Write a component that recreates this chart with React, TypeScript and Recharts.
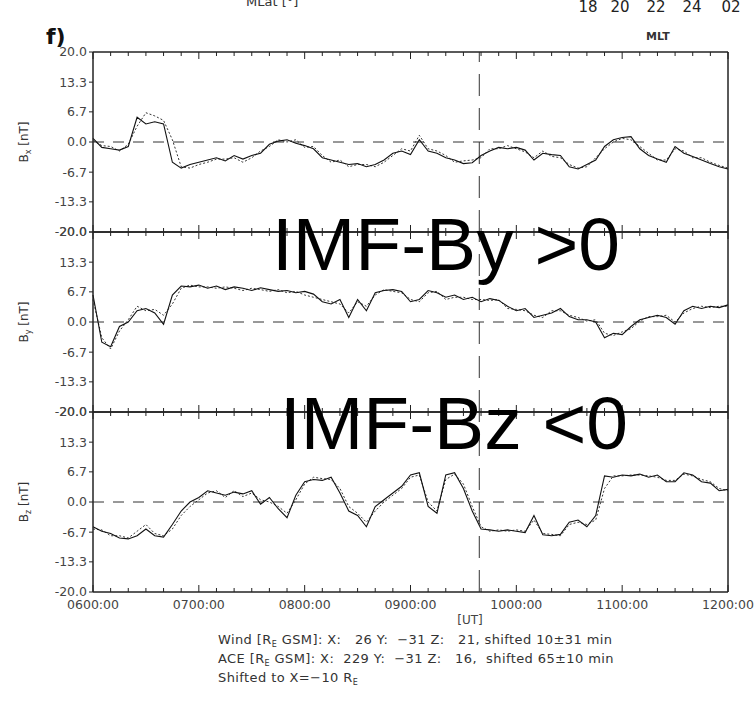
import React from 'react'
import { LineChart, Line, XAxis, YAxis, ReferenceLine } from 'recharts'

// minutes after 06:00 UT, 5-min steps
const minutes = [
  0, 5, 10, 15, 20, 25, 30, 35, 40, 45, 50, 55,
  60, 65, 70, 75, 80, 85, 90, 95, 100, 105, 110, 115,
  120, 125, 130, 135, 140, 145, 150, 155, 160, 165, 170, 175,
  180, 185, 190, 195, 200, 205, 210, 215, 220, 225, 230, 235,
  240, 245, 250, 255, 260, 265, 270, 275, 280, 285, 290, 295,
  300, 305, 310, 315, 320, 325, 330, 335, 340, 345, 350, 355,
  360,
]

const bxWind = [
  0.8, -1.2, -1.5, -1.8, -1.0, 5.5, 4.0, 4.5, 4.0, -4.5, -5.8, -5.0,
  -4.5, -4.0, -3.5, -4.2, -3.0, -3.8, -3.0, -2.5, -0.5, 0.2, 0.5, -0.3,
  -0.8, -1.5, -3.5, -4.0, -4.5, -5.0, -4.8, -5.5, -5.0, -4.0, -2.5, -2.0,
  -2.8, 0.5, -2.0, -2.5, -3.5, -4.0, -4.8, -4.6, -3.0, -2.0, -1.2, -1.5,
  -1.2, -1.8, -4.0, -2.5, -2.8, -3.0, -5.5, -6.0, -5.0, -4.0, -1.0, 0.5,
  1.0, 1.2, -1.5, -3.0, -3.8, -4.5, -1.0, -2.5, -3.2, -4.0, -4.8, -5.5,
  -6.0,
]
const bxAce = [
  0.3, -0.8, -1.0, -2.0, -0.5, 3.5, 6.5, 5.8, 4.8, 0.5, -5.5, -5.8,
  -5.0, -4.5, -3.8, -3.8, -3.5, -4.5, -3.5, -2.0, -1.0, 0.5, 0.0, 0.5,
  -1.2, -1.0, -3.0, -4.5, -4.0, -5.5, -5.0, -5.0, -5.5, -4.5, -3.0, -1.5,
  -2.0, 1.5, -1.5, -2.0, -3.0, -4.5, -4.2, -4.0, -3.5, -1.5, -1.5, -0.8,
  -1.5, -2.2, -3.5, -2.0, -3.2, -3.5, -5.0, -5.8, -5.5, -3.5, -1.5, 0.0,
  0.8, 0.5, -1.0, -2.5, -4.0, -4.0, -1.5, -2.0, -3.5, -3.5, -4.5, -5.2,
  -5.8,
]
const byWind = [
  6.0, -4.5, -5.5, -1.0, 0.0, 2.5, 3.0, 2.0, -0.5, 6.0, 8.0, 7.8,
  8.2, 7.5, 8.0, 7.2, 7.8, 7.5, 7.0, 7.6, 7.2, 6.8, 7.0, 6.5,
  6.8, 6.2, 4.5, 4.0, 5.0, 1.0, 5.0, 2.5, 6.5, 7.0, 7.2, 6.8,
  4.5, 5.0, 7.0, 6.5, 5.5, 6.0, 5.0, 5.5, 4.5, 5.2, 4.8, 3.5,
  2.5, 3.0, 1.0, 1.5, 2.0, 3.0, 1.2, 0.5, 0.5, 0.0, -3.5, -2.5,
  -2.8, -1.0, 0.5, 1.0, 1.5, 1.0, -0.5, 2.5, 3.5, 3.0, 3.5, 3.2,
  3.8,
]
const byAce = [
  5.0, -3.5, -6.0, -2.0, 0.5, 3.5, 2.5, 2.8, 1.5, 4.0, 7.5, 8.2,
  7.8, 7.8, 7.5, 7.8, 7.5, 7.0, 7.5, 7.2, 6.8, 7.2, 6.5, 6.8,
  6.0, 5.5, 5.0, 4.5, 4.0, 2.0, 4.5, 3.5, 6.0, 7.2, 6.8, 6.5,
  5.0, 4.5, 6.5, 6.8, 5.0, 5.5, 5.5, 5.0, 5.0, 4.8, 5.0, 3.0,
  2.8, 2.5, 1.5, 1.0, 2.5, 2.5, 1.5, 1.0, 0.2, 0.5, -2.5, -3.0,
  -2.2, -1.5, 0.2, 1.2, 1.2, 1.5, 0.0, 2.0, 3.0, 3.5, 3.2, 3.5,
  3.5,
]
const bzWind = [
  -5.5, -6.5, -7.0, -8.0, -8.2, -7.5, -6.0, -7.5, -7.8, -5.0, -2.0, 0.0,
  1.0, 2.5, 2.0, 1.5, 2.2, 1.8, 2.5, -0.5, 1.0, -1.5, -3.5, 1.5,
  4.5, 5.0, 4.8, 5.5, 2.0, -2.0, -3.0, -5.5, -1.0, 0.5, 2.0, 3.5,
  6.0, 6.5, -1.0, -2.5, 6.0, 6.5, 3.0, -2.0, -6.0, -6.2, -6.5, -6.2,
  -6.5, -6.8, -3.0, -7.3, -7.5, -7.2, -4.5, -4.0, -5.5, -3.0, 5.8, 5.5,
  6.0, 5.8, 6.2, 5.5, 6.0, 4.5, 4.5, 6.5, 6.0, 4.5, 4.2, 2.5,
  2.8,
]
const bzAce = [
  -6.0, -6.2, -7.5, -7.5, -8.0, -6.5, -5.0, -7.0, -7.5, -6.0, -3.0, -1.0,
  0.5, 2.0, 2.5, 1.0, 2.5, 1.2, 2.0, 0.5, 0.0, -1.0, -2.5, 0.5,
  4.0, 5.5, 5.2, 5.0, 3.0, -1.0, -2.5, -4.5, -2.0, 0.0, 1.5, 3.0,
  5.5, 6.0, 0.0, -2.0, 5.0, 6.2, 4.0, -1.0, -5.5, -6.5, -6.2, -6.5,
  -6.2, -6.5, -4.0, -7.0, -7.2, -7.5, -5.0, -4.5, -5.0, -4.0, 3.0, 5.8,
  5.8, 6.0, 6.0, 5.8, 5.5, 4.8, 4.8, 6.2, 5.8, 5.0, 4.5, 3.0,
  2.5,
]

const xTicks = [
  0, 10, 20, 30, 40, 50, 60, 70, 80, 90, 100, 110, 120, 130, 140, 150, 160, 170, 180,
  190, 200, 210, 220, 230, 240, 250, 260, 270, 280, 290, 300, 310, 320, 330, 340, 350, 360,
]
const hourLabels: Record<number, string> = {
  0: '0600:00', 60: '0700:00', 120: '0800:00', 180: '0900:00',
  240: '1000:00', 300: '1100:00', 360: '1200:00',
}
const yTicks = [-20, -13.3, -6.7, 0, 6.7, 13.3, 20]
const shiftMark = 219 // vertical dashed marker (~09:39 UT)
const mltLabels = ['18', '20', '22', '24', '02']
const mltX = [588, 620, 656, 692, 731]

const rows = minutes.map((t, i) => ({
  t,
  bxWind: bxWind[i], bxAce: bxAce[i],
  byWind: byWind[i], byAce: byAce[i],
  bzWind: bzWind[i], bzAce: bzAce[i],
}))

const FONT = '"DejaVu Sans", sans-serif'
const INK = '#222'

function BottomTick(props: any) {
  const { x, y, payload, showLabel } = props
  const major = payload.value % 60 === 0
  return (
    <g>
      <line x1={x} x2={x} y1={y} y2={y - (major ? 7 : 4)} stroke={INK} />
      {showLabel && major && (
        <text x={x} y={y + 17} textAnchor="middle" fontSize={12.5} fontFamily={FONT} fill="#444">
          {hourLabels[payload.value]}
        </text>
      )}
    </g>
  )
}

function TopTick(props: any) {
  const { x, y, payload } = props
  const major = payload.value % 60 === 0
  return <line x1={x} x2={x} y1={y} y2={y + (major ? 7 : 4)} stroke={INK} />
}

function Panel({ top, wind, ace, last }: { top: number; wind: string; ace: string; last?: boolean }) {
  const mt = 8
  const h = mt + 180 + (last ? 30 : 8)
  return (
    <div style={{ position: 'absolute', left: 0, top: top - mt }}>
      <LineChart width={755} height={h} data={rows} margin={{ top: mt - 1, right: 0, bottom: last ? 0 : 7, left: 0 }}>
        <XAxis
          dataKey="t"
          type="number"
          domain={[0, 360]}
          ticks={xTicks}
          interval={0}
          height={last ? 30 : 1}
          tickSize={0}
          tickMargin={0}
          axisLine={{ stroke: INK }}
          tick={(p: any) => <BottomTick {...p} showLabel={last} />}
        />
        <XAxis
          xAxisId="top"
          orientation="top"
          dataKey="t"
          type="number"
          domain={[0, 360]}
          ticks={xTicks}
          interval={0}
          height={1}
          tickSize={0}
          tickMargin={0}
          axisLine={{ stroke: INK }}
          tick={(p: any) => <TopTick {...p} />}
        />
        <YAxis
          width={93}
          domain={[-20, 20]}
          ticks={yTicks}
          interval={0}
          tickSize={4}
          tickMargin={2}
          tickFormatter={(v: number) => v.toFixed(1)}
          tick={{ fontSize: 12.5, fontFamily: FONT, fill: '#444' }}
          tickLine={{ stroke: INK }}
          axisLine={{ stroke: INK }}
        />
        <YAxis
          yAxisId="right"
          orientation="right"
          width={27}
          domain={[-20, 20]}
          ticks={yTicks}
          interval={0}
          tickSize={4}
          tick={false}
          tickLine={{ stroke: INK }}
          axisLine={{ stroke: INK }}
        />
        {/* plot frame */}
        <ReferenceLine y={20} stroke={INK} />
        <ReferenceLine y={-20} stroke={INK} />
        <ReferenceLine x={0} stroke={INK} />
        <ReferenceLine x={360} stroke={INK} />
        <ReferenceLine y={0} stroke="#333" strokeDasharray="11 9" />
        <ReferenceLine x={shiftMark} stroke="#333" strokeDasharray="22 12" />
        <Line dataKey={ace} stroke="#333" strokeWidth={1} strokeDasharray="2 2" dot={false} isAnimationActive={false} type="linear" />
        <Line dataKey={wind} stroke="#111" strokeWidth={1.1} dot={false} isAnimationActive={false} type="linear" />
      </LineChart>
    </div>
  )
}

export default function App() {
  const comp = (label: string, cy: number) => (
    <text transform={`translate(28 ${cy}) rotate(-90)`} textAnchor="middle" fontSize={12} fontFamily={FONT} fill="#333">
      B<tspan fontSize={8} dy={3}>{label}</tspan>
      <tspan dy={-3}> [nT]</tspan>
    </text>
  )
  return (
    <div style={{ position: 'absolute', left: 0, top: 0, width: 755, height: 708, background: '#fff', overflow: 'hidden' }}>
      <Panel top={52} wind="bxWind" ace="bxAce" />
      <Panel top={232} wind="byWind" ace="byAce" />
      <Panel top={412} wind="bzWind" ace="bzAce" last />
      <svg width={755} height={708} style={{ position: 'absolute', left: 0, top: 0, pointerEvents: 'none' }}>
        <text x={246} y={6} fontSize={13} fontFamily={FONT} fill="#333">MLat [°]</text>
        {mltLabels.map((s, i) => (
          <text key={s} x={mltX[i]} y={12} textAnchor="middle" fontSize={15} fontFamily={FONT} fill="#222">{s}</text>
        ))}
        <text x={646} y={40} fontSize={11} fontWeight="bold" fontFamily={FONT} fill="#333">MLT</text>
        <text x={46} y={44} fontSize={22} fontWeight="bold" fontFamily={FONT} fill="#111">f)</text>
        {comp('x', 142)}
        {comp('y', 322)}
        {comp('z', 502)}
        <text x={272} y={270} fontSize={75} fontFamily='"Liberation Sans", Arial, sans-serif' fill="#000">IMF-By &gt;0</text>
        <text x={280} y={449} fontSize={75} fontFamily='"Liberation Sans", Arial, sans-serif' fill="#000">IMF-Bz &lt;0</text>
        <text x={470} y={624} textAnchor="middle" fontSize={12} fontFamily={FONT} fill="#444">[UT]</text>
        <g fontSize={13} fontFamily={FONT} fill="#333" letterSpacing={0.4}>
          <text x={218} y={644} xmlSpace="preserve">
            Wind [R<tspan fontSize={8} dy={3}>E</tspan><tspan dy={-3}> GSM]: X:   26 Y:  −31 Z:   21, shifted 10±31 min</tspan>
          </text>
          <text x={218} y={663} xmlSpace="preserve">
            ACE [R<tspan fontSize={8} dy={3}>E</tspan><tspan dy={-3}> GSM]: X:  229 Y:  −31 Z:   16,  shifted 65±10 min</tspan>
          </text>
          <text x={218} y={682} xmlSpace="preserve">
            Shifted to X=−10 R<tspan fontSize={8} dy={3}>E</tspan>
          </text>
        </g>
      </svg>
    </div>
  )
}
